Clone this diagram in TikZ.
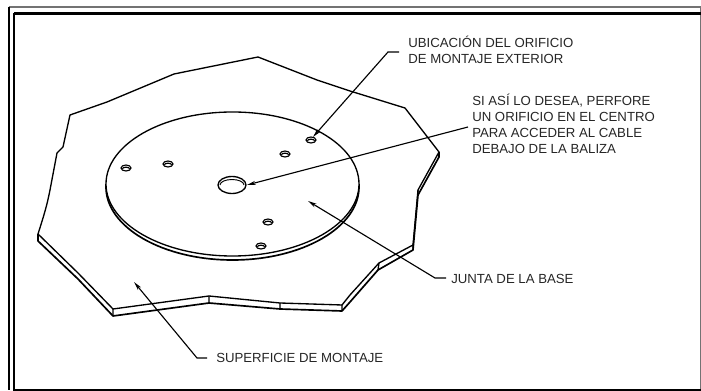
\documentclass[tikz,border=0pt]{standalone}
\usepackage{fontspec}
\setmainfont{Liberation Sans}
\usetikzlibrary{arrows.meta}
\tikzset{
  x=0.75pt,y=-0.75pt,
  edge/.style={line width=1pt,black,line join=round},
  thick edge/.style={line width=1.25pt,black,line join=round},
  leader/.style={line width=0.85pt,black},
  tipped/.style={leader,{Stealth[length=6.5pt,width=3pt]}-},
  lab/.style={anchor=west,inner sep=0pt,align=left,font=\fontsize{9.9pt}{12pt}\selectfont,text=black!85},
  hole/.style={draw,line width=0.85pt,fill=white}
}
\begin{document}
\begin{tikzpicture}
\useasboundingbox (0,0) rectangle (701,391);
% frame
\draw[line width=1pt,black!55] (8.5,7) -- (700.5,7) -- (700.5,390.5);
\draw[line width=1.1pt,black] (9,7) -- (9,390.5);
\draw[line width=1.7pt,black] (14,13.5) -- (701,13.5);
\draw[line width=1.7pt,black] (14,13.5) -- (14,390) -- (701,390);
% plate
\draw[edge,fill=white] (70,115) -- (107,102) -- (174,74) -- (258,57) -- (317,80) -- (350,91) -- (405,108) -- (439,152)
  -- (418,190) -- (413,245) -- (379,263) -- (350,295) -- (342,305) -- (280,303) -- (209,296) -- (113,309)
  -- (78,273) -- (38,234) .. controls (45,212) and (47,205) .. (50,190) -- (57,153) -- (63,147) -- cycle;
% plate thickness
\draw[thick edge] (439,152) -- (439,157) -- (418,195) -- (413,250) -- (378,270) -- (350,302) -- (342,311)
  -- (280,309) -- (209,303) -- (113,316) -- (78,279) -- (38,241) -- (38,234);
\draw[edge] (418,190) -- (418,195) (413,245) -- (413,250) (379,263) -- (378,270) (342,305) -- (342,311)
  (280,303) -- (280,309) (209,296) -- (209,303) (113,309) -- (113,316);
% disc
\draw[thick edge] (106,184) -- (106,187) arc[start angle=180,end angle=0,x radius=126.5,y radius=73] -- (359,184);
\draw[edge,fill=white] (232.5,184) ellipse[x radius=126.5,y radius=72];
% mounting holes
\foreach \hx/\hy in {311/140,285/154,168/164,126/168,268/222,261/246}{
  \draw[hole] (\hx,\hy) ellipse[x radius=5,y radius=3];
  \draw[line width=0.9pt] (\hx-3.6,\hy+0.8) arc[start angle=180,end angle=360,x radius=3.6,y radius=1.6];
}
% centre hole
\draw[hole,line width=1pt] (232,185) ellipse[x radius=14,y radius=8.5];
\draw[line width=0.7pt] (220,185) arc[start angle=180,end angle=360,x radius=12,y radius=5.5];
% labels
\node[lab] (ubic) at (408,50) {UBICACIÓN DEL ORIFICIO\\DE MONTAJE EXTERIOR};
\node[lab] (cent) at (472,124) {SI ASÍ LO DESEA, PERFORE\\UN ORIFICIO EN EL CENTRO\\PARA ACCEDER AL CABLE\\DEBAJO DE LA BALIZA};
\node[lab] (junta) at (451,279) {JUNTA DE LA BASE};
\node[lab] (sup) at (216,358) {SUPERFICIE DE MONTAJE};
% leader anchors
\coordinate (t1) at (313,137);
\coordinate (e1) at (388,52);
\coordinate (s1) at (399,52);
\coordinate (t2) at (247,185);
\coordinate (s2) at (468,127);
\coordinate (t3) at (308,201);
\coordinate (e3) at (435,278);
\coordinate (s3) at (446,278);
\coordinate (t4) at (134,282);
\coordinate (e4) at (197,358);
\coordinate (s4) at (207,358);
\draw[tipped] (t1) -- (e1) -- (s1);
\draw[tipped] (t2) -- (s2);
\draw[tipped] (t3) -- (e3) -- (s3);
\draw[tipped] (t4) -- (e4) -- (s4);
\end{tikzpicture}
\end{document}
